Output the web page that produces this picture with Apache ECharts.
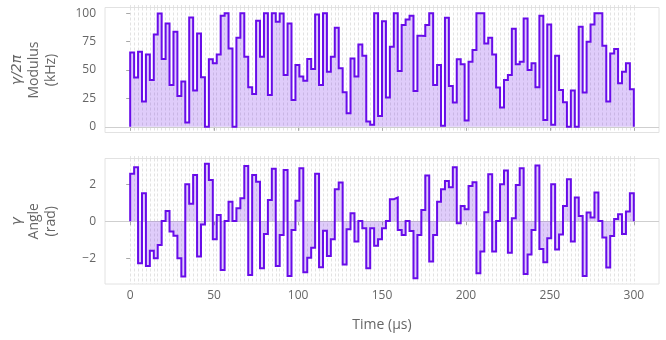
<!DOCTYPE html>
<html>
<head>
<meta charset="utf-8">
<script src="https://cdn.jsdelivr.net/npm/echarts@6.0.0/dist/echarts.min.js"></script>
<style>
  html, body { margin: 0; padding: 0; background: #ffffff; }
  #chart { width: 666px; height: 340px; }
</style>
</head>
<body>
<div id="chart"></div>
<script>
// Piecewise-constant control: total duration and per-segment values
const duration = 300; // µs

// |γ|/2π per segment (kHz)
const modulus = [
  65.5, 43.3, 66.1, 22.2, 63.7, 41.2, 81.3, 99.7, 59.6, 90.9,
  36.8, 83.6, 27.2, 39.8, 3.8, 96.2, 31.9, 82.2, 43.6, 0.0,
  59.4, 55.9, 63.7, 97.7, 100, 69.0, 0.0, 78.4, 100, 61.7,
  34.8, 28.9, 93.3, 61.7, 100, 28.1, 100, 92.4, 99.7, 45.6,
  91.0, 23.7, 54.4, 44.2, 40.6, 59.6, 50.9, 98.8, 36.8, 100,
  48.5, 61.7, 87.1, 51.5, 30.4, 12.0, 60.2, 44.2, 72.5, 62.6,
  4.7, 1.8, 100, 9.6, 93.0, 25.7, 70.5, 100, 49.1, 89.5,
  94.4, 97.7, 31.6, 80.1, 80.0, 89.5, 100, 36.8, 54.4, 0.9,
  95.9, 36.0, 21.3, 59.4, 55.0, 5.6, 57.3, 67.5, 100, 100,
  73.4, 78.4, 63.7, 34.5, 17.0, 41.2, 45.6, 86.3, 55.0, 57.3,
  95.3, 50.0, 55.9, 34.8, 97.7, 6.1, 90.0, 1.8, 62.6, 32.5,
  21.6, 0.0, 31.9, 0.0, 88.0, 30.1, 74.9, 90.0, 100, 100,
  71.3, 22.2, 64.6, 68.4, 38.3, 48.5, 55.9, 33.1
];

// arg γ per segment (rad)
const angle = [
  2.56, 2.92, -2.27, 1.51, -2.42, -1.59, -2.0, -1.28, 0.02, 0.56,
  -0.56, -0.79, -2.0, -2.99, 2.0, 0.94, 2.5, -1.91, -0.18, 3.1,
  2.23, -0.97, 0.34, -2.63, 0.02, 1.06, 0.02, 0.7, 1.24, 2.99,
  -2.9, 2.5, 2.14, -2.54, -0.69, 1.15, 2.83, -2.42, -0.74, 2.77,
  -2.96, -0.47, 1.11, 2.86, -2.76, -1.97, -1.43, 2.56, -2.49, -0.51,
  -1.88, -0.97, 1.73, 2.09, -2.33, -0.43, 0.43, -1.1, 0.02, -0.38,
  -2.54, -0.38, -1.32, -0.97, -0.38, 0.02, 1.19, 1.28, -0.47, -0.74,
  0.02, -0.52, -3.08, -0.74, 0.61, 2.47, -2.18, -0.74, 1.06, 1.73,
  2.18, 1.84, 2.92, -0.11, 0.83, 0.65, 1.91, 2.11, -2.81, -1.64,
  0.48, 2.54, -1.64, 0.02, 2.0, 2.74, -1.7, 0.16, 1.96, 2.86,
  -2.85, -1.79, -0.47, 3.01, -1.5, -2.22, -0.92, 2.0, -1.52, -0.71,
  0.83, 2.27, -1.1, 1.28, 0.29, -2.96, 0.47, 0.2, 1.55, 0.02,
  -0.88, -2.5, -0.8, 0.12, 0.38, -0.69, 0.52, 1.51
];

// Axis tick values
const timeTicks = [0, 50, 100, 150, 200, 250, 300];
const modulusTicks = [0, 25, 50, 75, 100];
const angleTicks = [-2, 0, 2];

const segCount = modulus.length;
const dt = duration / segCount;
const segEdges = [];
for (let k = 0; k <= segCount; k++) segEdges.push(k * dt);

// Step outline: rise from zero at t=0, hold each value, fall back to zero at the end
function stepPoints(values) {
  const pts = [[0, 0]];
  values.forEach((v, k) => pts.push([k * dt, v]));
  pts.push([duration, values[values.length - 1]]);
  pts.push([duration, 0]);
  return pts;
}

const LINE = '#680CE9';
const FILL = 'rgba(104, 12, 233, 0.30)';
const TEXT = '#666666';
const FRAME = '#e2e2e2';
const FONT = '"Open Sans", "DejaVu Sans", sans-serif';
const minus = v => String(v).replace('-', '\u2212');

const gridBox = { left: 102, width: 557 };

function mainXAxis(gridIndex, withLabels) {
  return {
    type: 'value', gridIndex, min: -15, max: 315,
    axisLine: { show: false },
    axisTick: { show: true, length: 4, customValues: timeTicks, lineStyle: { color: '#a8a8a8', width: 1 } },
    axisLabel: { show: withLabels, customValues: timeTicks, margin: 6, color: TEXT, fontSize: 12, fontFamily: FONT },
    splitLine: { show: false },
    name: withLabels ? 'Time (\u00b5s)' : '',
    nameLocation: 'middle', nameGap: 34,
    nameTextStyle: { color: TEXT, fontSize: 14, fontFamily: FONT }
  };
}

function segXAxis(gridIndex) {
  return {
    type: 'value', gridIndex, min: -15, max: 315,
    axisLine: { show: false },
    axisTick: { show: true, length: 2.5, customValues: segEdges, lineStyle: { color: '#dedede', width: 0.8 } },
    axisLabel: { show: false, customValues: segEdges },
    splitLine: { show: true, lineStyle: { color: '#dcdcdc', width: 0.8, type: [3, 2] } }
  };
}

function yAxisDef(gridIndex, min, max, ticks, nameRich) {
  return {
    type: 'value', gridIndex, min, max,
    axisLine: { show: false },
    axisTick: { show: true, length: 4, customValues: ticks, lineStyle: { color: '#a8a8a8', width: 1 } },
    axisLabel: { customValues: ticks, margin: 9, color: TEXT, fontSize: 12, fontFamily: FONT, formatter: minus },
    splitLine: { show: false },
    name: nameRich,
    nameLocation: 'middle', nameRotate: 90, nameGap: 45,
    nameTextStyle: {
      color: TEXT, fontSize: 14, fontFamily: FONT, lineHeight: 17, align: 'center',
      rich: { m: { fontStyle: 'italic', fontFamily: '"DejaVu Sans", sans-serif', fontSize: 14, color: TEXT, lineHeight: 18 } }
    }
  };
}

function stepSeries(idx, values) {
  return {
    type: 'line', xAxisIndex: idx * 2, yAxisIndex: idx,
    data: stepPoints(values), step: 'end', symbol: 'none', z: 3,
    lineStyle: { color: LINE, width: 2, join: 'miter', cap: 'butt' },
    areaStyle: { color: FILL, origin: 0 },
    markLine: {
      silent: true, symbol: 'none', label: { show: false },
      lineStyle: { color: '#cfcfcf', type: 'solid', width: 1 },
      data: [{ yAxis: 0 }], z: 1
    },
    animation: false
  };
}

const chart = echarts.init(document.getElementById('chart'), null, { renderer: 'canvas' });
chart.setOption({
  animation: false,
  backgroundColor: '#ffffff',
  grid: [
    Object.assign({ top: 7.5, height: 125, show: true, borderColor: FRAME, borderWidth: 1 }, gridBox),
    Object.assign({ top: 158.5, height: 125.5, show: true, borderColor: FRAME, borderWidth: 1 }, gridBox)
  ],
  xAxis: [mainXAxis(0, false), segXAxis(0), mainXAxis(1, true), segXAxis(1)],
  yAxis: [
    yAxisDef(0, -5, 105, modulusTicks, '{m|\u03b3/2\u03c0}\nModulus\n(kHz)'),
    yAxisDef(1, -3.39, 3.39, angleTicks, '{m|\u03b3}\nAngle\n(rad)')
  ],
  series: [stepSeries(0, modulus), stepSeries(1, angle)]
});
</script>
</body>
</html>
